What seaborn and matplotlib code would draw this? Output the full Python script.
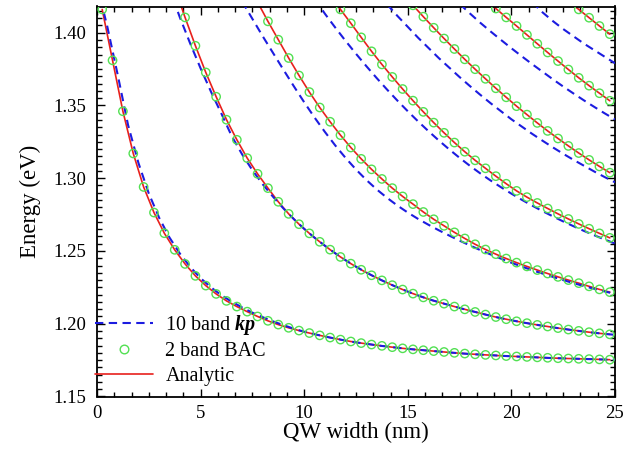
import numpy as np
import pandas as pd
import matplotlib
matplotlib.use("Agg")
import matplotlib.pyplot as plt
import seaborn as sns
from matplotlib.lines import Line2D
from matplotlib.ticker import AutoMinorLocator, FormatStrFormatter

# ---------------------------------------------------------------------------
# Subband energies (eV) versus quantum-well width (nm)
# ---------------------------------------------------------------------------
# 10-band k.p results, sampled every 0.5 nm starting at kp_start[i]
kp_start = [0.0, 3.5, 7.0, 10.5, 14.0, 17.5, 21.0]

kp_e1 = [1.4330, 1.4040, 1.3710, 1.3365, 1.3105, 1.2895, 1.2728, 1.2592, 1.2482,
         1.2390, 1.2313, 1.2250, 1.2196, 1.2152, 1.2112, 1.2076, 1.2045, 1.2016,
         1.1990, 1.1966, 1.1945, 1.1928, 1.1912, 1.1898, 1.1884, 1.1872, 1.1862,
         1.1852, 1.1843, 1.1835, 1.1827, 1.1821, 1.1815, 1.1809, 1.1803, 1.1797,
         1.1792, 1.1788, 1.1784, 1.1780, 1.1776, 1.1773, 1.1770, 1.1767, 1.1764,
         1.1762, 1.1760, 1.1758, 1.1756, 1.1754, 1.1752]
kp_e2 = [1.4300, 1.4105, 1.3925, 1.3755, 1.3595, 1.3445, 1.3290, 1.3165, 1.3055,
         1.2958, 1.2872, 1.2792, 1.2719, 1.2652, 1.2591, 1.2536, 1.2484, 1.2436,
         1.2392, 1.2352, 1.2315, 1.2281, 1.2250, 1.2221, 1.2194, 1.2169, 1.2148,
         1.2128, 1.2108, 1.2090, 1.2072, 1.2054, 1.2038, 1.2024, 1.2010, 1.1998,
         1.1986, 1.1975, 1.1965, 1.1955, 1.1946, 1.1938, 1.1930, 1.1924]
kp_e3 = [1.4215, 1.4095, 1.3975, 1.3860, 1.3745, 1.3632, 1.3522, 1.3417, 1.3318,
         1.3225, 1.3139, 1.3060, 1.2988, 1.2923, 1.2865, 1.2812, 1.2764, 1.2720,
         1.2680, 1.2642, 1.2606, 1.2571, 1.2538, 1.2506, 1.2476, 1.2447, 1.2419,
         1.2393, 1.2368, 1.2345, 1.2322, 1.2300, 1.2279, 1.2259, 1.2240, 1.2222,
         1.2205]
kp_e4 = [1.4235, 1.4130, 1.4035, 1.3943, 1.3855, 1.3770, 1.3688, 1.3609, 1.3533,
         1.3460, 1.3390, 1.3323, 1.3259, 1.3198, 1.3140, 1.3085, 1.3033, 1.2984,
         1.2938, 1.2894, 1.2852, 1.2812, 1.2774, 1.2738, 1.2703, 1.2670, 1.2638,
         1.2608, 1.2579, 1.2551]
kp_e5 = [1.4195, 1.4115, 1.4040, 1.3965, 1.3895, 1.3825, 1.3760, 1.3695, 1.3633,
         1.3573, 1.3515, 1.3460, 1.3405, 1.3355, 1.3305, 1.3258, 1.3212, 1.3168,
         1.3126, 1.3086, 1.3046, 1.3008, 1.2972]
kp_e6 = [1.4198, 1.4132, 1.4068, 1.4008, 1.3950, 1.3893, 1.3838, 1.3784, 1.3732,
         1.3680, 1.3630, 1.3582, 1.3535, 1.3490, 1.3446, 1.3404]
kp_e7 = [1.4210, 1.4140, 1.4080, 1.4025, 1.3975, 1.3925, 1.3880, 1.3835, 1.3790]

# 2-band BAC / analytic results, sampled every 0.5 nm starting at bac_start[i]
bac_start = [0.25, 3.75, 7.75, 11.25, 14.75, 18.75, 22.75]

bac_e1 = [1.4160, 1.3810, 1.3460, 1.3170, 1.2940, 1.2764, 1.2622, 1.2508, 1.2411,
          1.2329, 1.2262, 1.2205, 1.2157, 1.2118, 1.2083, 1.2050, 1.2020, 1.1994,
          1.1972, 1.1953, 1.1936, 1.1920, 1.1905, 1.1891, 1.1878, 1.1867, 1.1857,
          1.1848, 1.1839, 1.1831, 1.1824, 1.1818, 1.1812, 1.1806, 1.1800, 1.1795,
          1.1790, 1.1786, 1.1782, 1.1778, 1.1775, 1.1772, 1.1769, 1.1766, 1.1763,
          1.1761, 1.1759, 1.1757, 1.1755, 1.1753]
bac_e2 = [1.4310, 1.4105, 1.3910, 1.3727, 1.3560, 1.3402, 1.3264, 1.3138, 1.3030,
          1.2932, 1.2838, 1.2755, 1.2684, 1.2621, 1.2563, 1.2509, 1.2459, 1.2413,
          1.2371, 1.2333, 1.2298, 1.2265, 1.2235, 1.2207, 1.2181, 1.2158, 1.2138,
          1.2118, 1.2099, 1.2081, 1.2063, 1.2046, 1.2031, 1.2017, 1.2004, 1.1992,
          1.1981, 1.1970, 1.1960, 1.1951, 1.1942, 1.1934, 1.1927]
bac_e3 = [1.4210, 1.4078, 1.3952, 1.3826, 1.3706, 1.3592, 1.3486, 1.3388, 1.3296,
          1.3211, 1.3133, 1.3061, 1.2995, 1.2932, 1.2875, 1.2822, 1.2768, 1.2718,
          1.2673, 1.2628, 1.2586, 1.2546, 1.2510, 1.2478, 1.2448, 1.2420, 1.2394,
          1.2369, 1.2345, 1.2322, 1.2300, 1.2279, 1.2257, 1.2236, 1.2217]
bac_e4 = [1.4258, 1.4160, 1.4065, 1.3968, 1.3872, 1.3782, 1.3696, 1.3613, 1.3533,
          1.3456, 1.3382, 1.3312, 1.3245, 1.3182, 1.3123, 1.3068, 1.3014, 1.2962,
          1.2913, 1.2870, 1.2830, 1.2792, 1.2755, 1.2720, 1.2686, 1.2653, 1.2621,
          1.2590]
bac_e5 = [1.4268, 1.4188, 1.4110, 1.4034, 1.3960, 1.3888, 1.3817, 1.3749, 1.3683,
          1.3618, 1.3556, 1.3495, 1.3437, 1.3380, 1.3325, 1.3273, 1.3222, 1.3173,
          1.3126, 1.3081, 1.3038]
bac_e6 = [1.4228, 1.4166, 1.4105, 1.4046, 1.3985, 1.3924, 1.3864, 1.3805, 1.3747,
          1.3690, 1.3636, 1.3584, 1.3532]
bac_e7 = [1.4215, 1.4160, 1.4103, 1.4046, 1.3990]

kp_levels = [kp_e1, kp_e2, kp_e3, kp_e4, kp_e5, kp_e6, kp_e7]
bac_levels = [bac_e1, bac_e2, bac_e3, bac_e4, bac_e5, bac_e6, bac_e7]

legend_labels = ["10 band kp", "2 band BAC", "Analytic"]
x_ticks = [0, 5, 10, 15, 20, 25]
y_ticks = [1.15, 1.20, 1.25, 1.30, 1.35, 1.40]
STEP = 0.5


def long_form(starts, levels):
    frames = []
    for n, (w0, energies) in enumerate(zip(starts, levels), start=1):
        widths = w0 + STEP * np.arange(len(energies))
        frames.append(pd.DataFrame({"width": widths, "energy": energies, "level": n}))
    return pd.concat(frames, ignore_index=True)


kp_df = long_form(kp_start, kp_levels)
bac_df = long_form(bac_start, bac_levels)

# ---------------------------------------------------------------------------
# Styling
# ---------------------------------------------------------------------------
sns.set_theme(style="ticks")
plt.rcParams["font.family"] = ["Liberation Serif", "DejaVu Serif"]
for key in ("text.color", "axes.labelcolor", "xtick.color", "ytick.color",
            "axes.edgecolor"):
    plt.rcParams[key] = "black"
plt.rcParams["mathtext.fontset"] = "custom"
plt.rcParams["mathtext.rm"] = "Liberation Serif"
plt.rcParams["mathtext.it"] = "Liberation Serif:italic"
plt.rcParams["mathtext.bf"] = "Liberation Serif:bold"
if "mathtext.bfit" in plt.rcParams:
    plt.rcParams["mathtext.bfit"] = "Liberation Serif:bold:italic"
    kp_label = r"10 band $\mathbfit{kp}$"
else:
    kp_label = r"10 band $\mathbf{kp}$"

BLUE = "#1c1ce0"
RED = "#e8201c"
GREEN = "#52e052"
DASH = (4.0, 2.6)

fig = plt.figure(figsize=(6.44, 4.51), dpi=100)
ax = fig.add_axes([97 / 644, 1 - 396.5 / 451, 518 / 644, 390 / 451])
ax.set_facecolor("white")
fig.patch.set_facecolor("white")

# Analytic curves (solid red)
sns.lineplot(data=bac_df, x="width", y="energy", units="level", estimator=None,
             sort=False, color=RED, linewidth=1.2, ax=ax, legend=False, zorder=2)

# 10-band k.p curves (dashed blue)
n_before = len(ax.lines)
sns.lineplot(data=kp_df, x="width", y="energy", units="level", estimator=None,
             sort=False, color=BLUE, linewidth=1.5, ax=ax, legend=False, zorder=3)
for line in ax.lines[n_before:]:
    line.set_dashes(DASH)

# 2-band BAC points (open green circles)
sns.scatterplot(data=bac_df, x="width", y="energy", marker="o", s=36,
                color=GREEN, linewidth=1.0, ax=ax, legend=False, zorder=4)
pts = ax.collections[-1]
pts.set_facecolor("none")
pts.set_edgecolor(GREEN)
pts.set_linewidth(1.0)

# Axes
ax.set_xlim(0, 25)
ax.set_ylim(1.15, 1.418)
ax.set_xticks(x_ticks)
ax.set_yticks(y_ticks)
ax.xaxis.set_minor_locator(AutoMinorLocator(6))
ax.yaxis.set_minor_locator(AutoMinorLocator(10))
ax.yaxis.set_major_formatter(FormatStrFormatter("%.2f"))
ax.tick_params(which="both", direction="in", top=True, right=True,
               color="black", width=1.0, labelsize=13.5, labelcolor="black")
ax.tick_params(axis="y", which="major", pad=8)
ax.tick_params(axis="x", which="major", pad=6)
ax.tick_params(which="major", length=6)
ax.tick_params(which="minor", length=3.5)
for sp in ax.spines.values():
    sp.set_visible(True)
    sp.set_color("black")
    sp.set_linewidth(1.3)

ax.set_xlabel("QW width (nm)", fontsize=16.5, labelpad=0, color="black")
ax.set_ylabel("Energy (eV)", fontsize=16.5, labelpad=9, color="black")

# Legend
handles = [
    Line2D([], [], color=BLUE, linewidth=1.5, dashes=DASH),
    Line2D([], [], linestyle="none", marker="o", markersize=6.2,
           markerfacecolor="none", markeredgecolor=GREEN, markeredgewidth=1.0),
    Line2D([], [], color=RED, linewidth=1.2),
]
labels = [kp_label, legend_labels[1], legend_labels[2]]
ax.legend(handles, labels, loc="lower left", bbox_to_anchor=(-0.004, 0.028),
          frameon=False, fontsize=14.5, handlelength=2.9, handletextpad=0.6,
          labelspacing=0.26, borderpad=0.0, borderaxespad=0.0)

fig.savefig("out.png", dpi=100, facecolor="white")
